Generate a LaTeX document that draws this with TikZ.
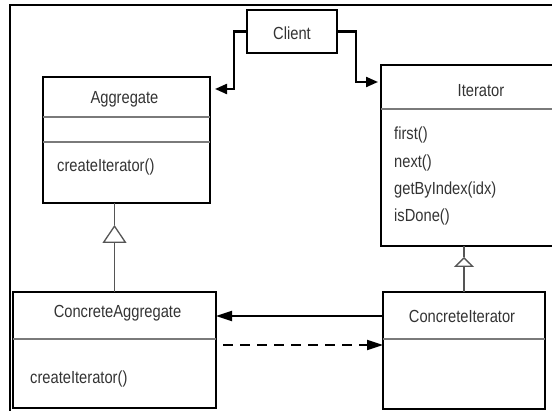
\documentclass[tikz,border=0pt]{standalone}
\usepackage{fontspec}
\setmainfont{Liberation Sans}[FakeStretch=0.84]
\usepackage{xcolor}
\usetikzlibrary{positioning, arrows.meta, calc}

\definecolor{txtgray}{HTML}{333333}
\definecolor{sepgray}{HTML}{7A7A7A}
\definecolor{inhgray}{HTML}{555555}

\begin{document}
\begin{tikzpicture}[
      x=1pt, y=-1pt,
      font=\fontsize{17.5}{20}\selectfont,
      cls/.style={draw, line width=2pt, anchor=north west, inner sep=0pt, outer sep=0pt},
      txt/.style={text=txtgray, inner sep=0pt, anchor=base},
      meth/.style={text=txtgray, inner sep=0pt, anchor=base west},
      sep/.style={draw=sepgray, line width=1.2pt},
      frame/.style={line width=2.8pt},
      uses/.style={-{Triangle[length=12pt, width=10pt]}, line width=2.2pt},
      assoc/.style={-{Triangle[length=16pt, width=10pt]}, line width=2.2pt},
      inh/.style={draw=inhgray, line width=1.3pt}
    ]
    \useasboundingbox (0,0) rectangle (552,411);
    %% outer frame
    \draw[frame] (10,415) -- (10,5) -- (560,5);
    %% Client
    \node[cls, minimum width=90pt, minimum height=43pt] (client) at (247,10) {};
    \node[txt] (clientt) at (292,40) {Client};
    %% Aggregate
    \node[cls, minimum width=167pt, minimum height=126pt] (agg) at (43,77) {};
    \node[txt] (aggt) at (124.5,104) {Aggregate};
    \draw[sep] (agg.west |- 0,117) -- (agg.east |- 0,117);
    \draw[sep] (agg.west |- 0,142) -- (agg.east |- 0,142);
    \node[meth] (aggm) at (57,172) {createIterator()};
    %% Iterator
    \node[cls, minimum width=175pt, minimum height=181pt] (iter) at (381,65) {};
    \node[txt] (itert) at (481,97) {Iterator};
    \draw[sep] (iter.west |- 0,109) -- (iter.east |- 0,109);
    \node[meth] (iterm1) at (394,140) {first()};
    \node[meth] (iterm2) at (394,167.5) {next()};
    \node[meth] (iterm3) at (394,195) {getByIndex(idx)};
    \node[meth] (iterm4) at (394,221.5) {isDone()};
    %% ConcreteAggregate
    \node[cls, minimum width=203pt, minimum height=116pt] (cagg) at (13,292) {};
    \node[txt] (caggt) at (117.5,318) {ConcreteAggregate};
    \draw[sep] (cagg.west |- 0,339) -- (cagg.east |- 0,339);
    \node[meth] (caggm) at (30,384) {createIterator()};
    %% ConcreteIterator
    \node[cls, minimum width=162pt, minimum height=117pt] (citer) at (383,292) {};
    \node[txt] (citert) at (462,323) {ConcreteIterator};
    \draw[sep] (citer.west |- 0,339) -- (citer.east |- 0,339);
    %% client links
    \draw[uses, shorten >=5pt] (client.west) -- ++(-13,0) |- (agg.east |- 0,89);
    \draw[uses, shorten >=3pt] (client.east) -- ++(19,0) |- (iter.west |- 0,82);
    %% generalisation
    \draw[inh, -{Triangle[open, length=18pt, width=24pt]}] (cagg.north) -- (cagg.north |- 0,225);
    \draw[inh] (cagg.north |- 0,225) -- (cagg.north |- agg.south);
    \draw[inh, -{Triangle[open, length=10pt, width=20pt]}] (citer.north) -- (citer.north |- 0,257);
    \draw[inh] (citer.north |- 0,257) -- (citer.north |- iter.south);
    %% concrete links
    \draw[assoc] (citer.west |- 0,316) -- (cagg.east |- 0,316);
    \draw[assoc, dash pattern=on 10pt off 7pt, shorten <=7pt] (cagg.east |- 0,345) -- (citer.west |- 0,345);
  \end{tikzpicture}
\end{document}
